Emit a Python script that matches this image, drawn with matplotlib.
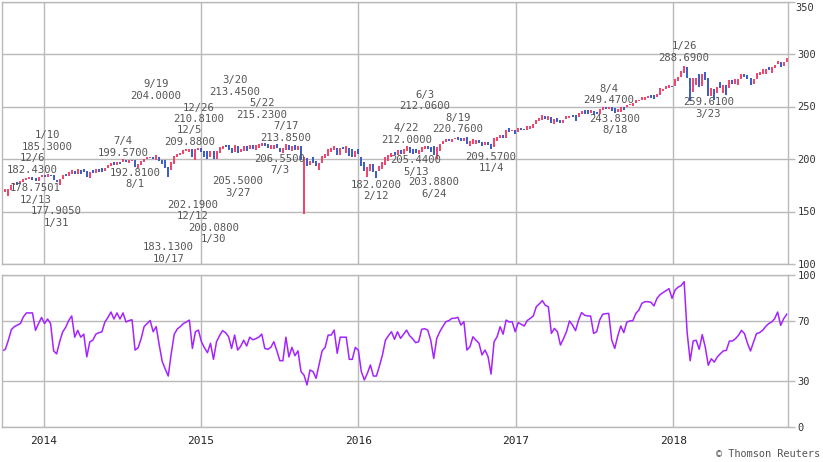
import numpy as np
import pandas as pd
import matplotlib
matplotlib.use("Agg")
import matplotlib.pyplot as plt

# weekly bars (friday of each week), iShares S&P 500 style prices
weeks = pd.date_range("2013-09-27", periods=261, freq="W-FRI")

lo = [
    170.2, 168.6, 164.9, 170.5, 175.2, 175.7, 176.0, 178.1, 179.9, 181.4,
    179.9, 178.75, 179.1, 182.9, 183.0, 183.1, 183.7, 179.8, 177.9, 175.2,
    180.7, 183.8, 183.7, 185.9, 185.6, 185.8, 186.0, 187.3, 182.9, 182.1,
    186.5, 186.2, 187.2, 188.0, 188.7, 191.7, 192.9, 194.4, 194.2, 195.7,
    197.0, 197.1, 196.6, 198.0, 192.8, 191.8, 194.1, 197.2, 200.1, 200.7,
    199.9, 199.1, 197.8, 195.0, 191.7, 183.1, 189.2, 195.4, 201.7, 203.8,
    205.1, 207.3, 206.5, 202.2, 199.1, 208.2,
    206.4, 202.3, 200.0, 201.9, 200.1, 199.8, 205.4, 209.7, 211.4, 208.6,
    205.8, 206.7, 205.5, 206.6, 207.3, 207.9, 209.2, 209.8, 208.1, 210.9,
    212.8, 212.1, 210.7, 209.3, 209.3, 210.9, 206.6, 205.6, 208.6, 208.7,
    207.7, 208.4, 208.2, 198.9, 148.0, 193.2, 194.4, 195.9, 193.3, 189.3,
    196.4, 200.5, 202.6, 206.8, 208.4, 203.7, 203.9, 209.2, 205.7, 203.2, 201.6, 202.0, 204.9,
    193.1, 188.1, 182.4, 188.1, 187.7, 182.0, 188.7, 190.2, 194.7, 198.1,
    202.2, 203.9, 203.7, 205.1, 205.1, 208.0, 206.0, 205.2, 205.4, 204.3,
    206.8, 209.8, 209.5, 207.0, 203.9, 199.9, 207.7, 214.1, 216.6, 217.0,
    216.5, 218.7, 218.4, 217.3, 217.6, 214.5, 212.5, 214.7, 214.3, 215.3,
    212.5, 213.6, 213.0, 209.6, 211.4, 217.4, 219.7, 220.2, 220.4, 225.5, 226.3, 224.0,
    225.5, 227.5, 227.2, 227.6, 228.4, 229.9, 233.4, 236.6, 237.2, 237.7,
    237.3, 234.4, 233.2, 235.5, 234.1, 234.1, 237.8, 238.9, 240.0, 236.5,
    239.9, 242.4, 243.2, 243.0, 243.7, 242.3, 242.5, 242.8, 246.7, 247.4,
    247.6, 245.3, 243.8, 244.4, 244.6, 247.0, 249.4, 251.0, 250.8, 252.9,
    255.4, 255.9, 256.6, 258.4, 258.0, 257.2, 259.3, 261.1, 264.3, 266.2, 267.8, 268.2,
    269.3, 273.9, 278.1, 281.5, 276.9, 254.8, 263.5, 270.9, 268.9, 269.8,
    275.6, 259.6, 260.0, 256.6, 263.0, 267.5, 263.2, 261.0, 267.2, 271.9,
    271.5, 270.3, 275.8, 277.9, 275.8, 270.4, 271.7, 276.0, 280.3, 281.1,
    280.7, 284.8, 282.3, 286.9, 290.1, 288.0, 288.9, 292.0,
]
hi = [
    173.0, 171.3, 171.6, 175.7, 177.3, 178.5, 178.7, 181.2, 182.3, 183.0,
    182.4, 181.9, 182.9, 185.0, 184.9, 185.3, 185.2, 184.9, 180.4, 181.0,
    185.2, 185.9, 187.8, 189.2, 189.0, 190.2, 189.4, 190.9, 188.2, 187.9,
    189.2, 190.2, 190.2, 191.2, 191.7, 194.0, 196.2, 196.7, 197.2, 197.5,
    199.6, 199.3, 199.3, 199.5, 199.5, 195.2, 197.8, 200.4, 202.0, 202.2,
    202.0, 204.0, 202.1, 199.5, 198.6, 192.1, 197.6, 203.0, 204.6, 205.7,
    208.5, 209.1, 209.9, 209.6, 209.2, 210.8,
    210.7, 207.5, 207.5, 207.5, 207.3, 207.7, 211.3, 212.7, 213.0, 213.2,
    210.3, 213.45, 212.7, 209.9, 212.1, 212.3, 213.0, 213.4, 213.4, 214.4,
    215.2, 214.8, 214.1, 213.5, 213.4, 214.3, 210.8, 210.4, 213.85, 213.8,
    212.4, 212.9, 212.0, 212.0, 201.5, 200.5, 198.4, 202.2, 198.4, 196.5,
    203.3, 205.0, 209.7, 210.8, 212.4, 210.7, 210.9, 211.4, 212.4, 210.4, 209.2, 207.8, 209.4,
    202.2, 197.1, 192.2, 195.7, 195.7, 188.4, 193.7, 197.2, 201.8, 204.0,
    206.1, 206.5, 208.2, 208.2, 209.4, 212.0, 211.1, 209.4, 209.7, 208.2,
    211.5, 212.1, 212.0, 211.6, 212.0, 211.0, 214.1, 217.5, 218.7, 218.7,
    219.4, 220.3, 220.8, 220.4, 220.1, 220.5, 217.0, 218.8, 218.3, 218.1,
    216.6, 216.1, 216.5, 214.3, 219.6, 220.6, 222.9, 223.1, 227.8, 229.6, 228.0, 228.0,
    229.4, 229.5, 229.0, 231.3, 231.2, 233.4, 237.1, 238.9, 241.9, 240.6,
    241.0, 239.6, 238.1, 238.6, 237.6, 237.5, 240.6, 241.3, 241.8, 241.8,
    243.4, 246.0, 246.6, 246.2, 246.2, 246.0, 245.0, 247.3, 249.1, 249.3,
    249.5, 249.4, 248.6, 247.6, 249.6, 249.6, 251.7, 252.3, 252.9, 256.1,
    256.6, 258.7, 259.5, 260.4, 261.0, 260.5, 262.1, 267.6, 267.1, 269.6, 270.2, 269.6,
    275.9, 278.1, 284.0, 288.7, 288.0, 277.5, 276.8, 277.3, 281.4, 280.9,
    282.8, 276.9, 267.2, 266.5, 268.9, 273.1, 270.9, 270.5, 275.0, 275.3,
    276.0, 276.5, 280.9, 281.4, 279.9, 276.7, 275.9, 281.7, 282.4, 285.9,
    285.8, 288.0, 287.8, 289.5, 292.9, 292.4, 292.8, 295.8,
]
# u = week closed up (red), d = closed down (blue)
updown = ("duuuuduuuu" "dduududddu" "uduududddu" "dudduuudud" "uduuduuuuu"
          "dudddduuuu" "uuuduu"
          "ddduduuudd" "duduududuu" "udduudduud" "ududududdu" "uuuuudududdud"
          "dduudduuuu" "ududuudddu" "uuddduuuud" "uudduduuud" "dudduuududud"
          "udduuuuuud" "ududduuudd" "uuddudduud" "udduuduuuu" "uuuudduuuuud"
          "uuuudduudu" "ddudududud" "uuuddduuuu" "uduuuduu")

rsi = [
    50, 51, 57, 64, 66, 67, 68, 72.5, 75, 75,
    75, 63.5, 68, 72, 68, 71, 68, 50, 48, 56,
    62.5, 65.5, 70, 73, 59, 63.5, 59, 61, 46, 56,
    57, 61, 62, 62.5, 69, 72, 75.6, 71, 75, 71,
    75, 69, 70, 70.5, 50.5, 52, 58, 66, 68, 70,
    62.6, 66, 54, 43, 38, 33.4, 48.4, 61, 64.4, 66,
    68, 69, 70.3, 51.6, 62.6, 63.7, 56, 52, 48.8, 55,
    44.4, 56, 60, 63.3, 62, 59.3, 51.6, 60.4, 50.5, 53,
    57, 53.2, 59, 57.3, 58, 59, 61, 51.6, 51, 52.3,
    56, 50, 43.5, 43.5, 59, 46, 52.3, 46.8, 50, 36.3,
    34, 27.5, 37.4, 36.3, 31.9, 41, 50, 52.3, 60.4, 60.4,
    63.7, 48.4, 59, 59, 59, 44.4, 44.4, 52.3, 50.5, 36.3,
    30.8, 35.2, 40.7, 33.4, 33.4, 40, 47.3, 57.1, 60, 62.6,
    57.6, 62.6, 58.2, 61, 63.7, 60, 58, 55.4, 56, 64.2,
    64.6, 63.7, 57.1, 45, 58.2, 62.6, 66, 69.2, 69.9, 71.4,
    71.5, 72.1, 67, 69.2, 50.5, 52.7, 59.3, 57, 55, 47.3,
    50.5, 46.2, 34.7, 56, 59.3, 65.9, 61, 70.3, 69, 69.2,
    62.6, 68.6, 67.5, 66.4, 70, 71.4, 73, 79.1, 81, 83.1,
    80, 79.1, 61.5, 64.8, 62.6, 53.8, 58, 62.6, 69.7, 67,
    63.3, 70.3, 75.2, 73.5, 73, 73, 61.5, 62.6, 70.3, 74.1,
    74.5, 74.7, 57.1, 51.6, 59.8, 66.4, 62, 69, 69.7, 69.9,
    74.7, 76.9, 81.3, 82.4, 82.4, 82, 79.6, 84.6, 87, 88.4,
    89.7, 91, 84.6, 90.1, 92, 93, 95.6, 62, 43.5, 56.5,
    57, 51, 60.7, 52.5, 40.5, 44.8, 42.6, 46, 48.1, 50,
    50.3, 56.5, 56.5, 58, 60.2, 63.5, 61.4, 55, 49.9, 55.8,
    61.4, 62, 63.5, 66, 67.9, 69, 71.2, 75.6, 66.8, 71.2,
    74.1,
]

# swing high / low labels
ann_dates = ["2013-12-06", "2013-12-13", "2014-01-10", "2014-01-31", "2014-07-04",
             "2014-08-01", "2014-09-19", "2014-10-17", "2014-12-05", "2014-12-12",
             "2014-12-26", "2015-01-30", "2015-03-20", "2015-03-27", "2015-05-22",
             "2015-07-03", "2015-07-17", "2016-02-12", "2016-04-22", "2016-05-13",
             "2016-06-03", "2016-06-24", "2016-08-19", "2016-11-04", "2017-08-04",
             "2017-08-18", "2018-01-26", "2018-03-23"]
ann_vals = [182.43, 178.7501, 185.30, 177.905, 199.57, 192.81, 204.00, 183.13, 209.88, 202.19,
            210.81, 200.08, 213.45, 205.50, 215.23, 206.55, 213.85, 182.02, 212.00, 205.44,
            212.06, 203.88, 220.76, 209.57, 249.47, 243.83, 288.69, 259.61]
ann_kind = "hlhlhlhlhlhlhlhlhlhlhlhlhlhl"
# vertical shift of each label block in pixels (stacking)
ann_dy = [-13.4, 12.7, -33.4, 34.8, -12.5, 11.9, -64.9, 76.2, -12.8, 53.7,
          -34.3, 74.5, -59.0, 33.6, -34.2, 12.2, -12.7, 12.8, -12.6, 12.6,
          -46.0, 33.3, -13.9, 13.4, -12.5, 11.7, -14.0, 11.6]

up_c = "#f2416b"
dn_c = "#3a5bc7"
grid_c = "#b9b9b9"
rsi_c = "#a424ff"
txt_c = "#333333"
mono = "DejaVu Sans Mono"

W, H = 823, 462
fig = plt.figure(figsize=(W / 100, H / 100), dpi=100)


def box(x0, y0, x1, y1):
    return [x0 / W, 1 - y1 / H, (x1 - x0) / W, (y1 - y0) / H]


ax1 = fig.add_axes(box(2, 1.5, 788, 264))
ax2 = fig.add_axes(box(2, 275, 788, 426.7))

x0 = pd.Timestamp("2013-09-26 06:00")
x1 = pd.Timestamp("2018-09-24")
years = pd.to_datetime(["2014-01-01", "2015-01-01", "2016-01-01", "2017-01-01", "2018-01-01"])

colors = [up_c if c == "u" else dn_c for c in updown]
ax1.vlines(weeks, lo, hi, colors=colors, linewidth=1.4)

for d, v, k, dy in zip(ann_dates, ann_vals, ann_kind, ann_dy):
    d = pd.Timestamp(d)
    date_txt = f"{d.month}/{d.day}"
    val_txt = f"{v:.4f}"
    top, bottom = (date_txt, val_txt) if k == "h" else (val_txt, date_txt)
    for t, off in ((top, -5.75), (bottom, 5.75)):
        ax1.annotate(t, xy=(d, v), xytext=(0, -(dy + off) * 0.72), textcoords="offset points",
                     ha="center", va="center", fontsize=7.6, family=mono, color="#555555",
                     annotation_clip=False)

ax2.plot(weeks, rsi, color=rsi_c, linewidth=1.1)

for ax, ylim, ticks in ((ax1, (100, 350), [100, 150, 200, 250, 300, 350]),
                        (ax2, (0, 100), [0, 30, 70, 100])):
    ax.set_xlim(x0, x1)
    ax.set_ylim(*ylim)
    ax.set_xticks(years)
    ax.set_yticks(ticks)
    ax.grid(True, color=grid_c, linewidth=1.0)
    ax.set_axisbelow(True)
    ax.yaxis.tick_right()
    ax.tick_params(axis="y", length=5, width=1, color=grid_c, pad=2, labelsize=7.5,
                   labelcolor=txt_c, labelfontfamily=mono)
    for s in ax.spines.values():
        s.set_color(grid_c)
        s.set_linewidth(1.0)

# top label would sit on the figure edge, so hang it below the line
ax1.set_yticklabels(["100", "150", "200", "250", "300", ""])
ax1.annotate("350", xy=(1, 1), xycoords="axes fraction", xytext=(5, -1),
             textcoords="offset points", ha="left", va="top", fontsize=7.5,
             family=mono, color=txt_c)

ax1.tick_params(axis="x", length=0, labelbottom=False)
ax2.set_xticklabels([str(y.year) for y in years])
ax2.tick_params(axis="x", length=0, pad=7, labelsize=8, labelcolor="#222222",
                labelfontfamily=mono)

fig.text(820 / W, 1 - 454 / H, "© Thomson Reuters", ha="right", va="center",
         fontsize=7.4, family=mono, color="#555555")

fig.savefig("out.png", dpi=100)
